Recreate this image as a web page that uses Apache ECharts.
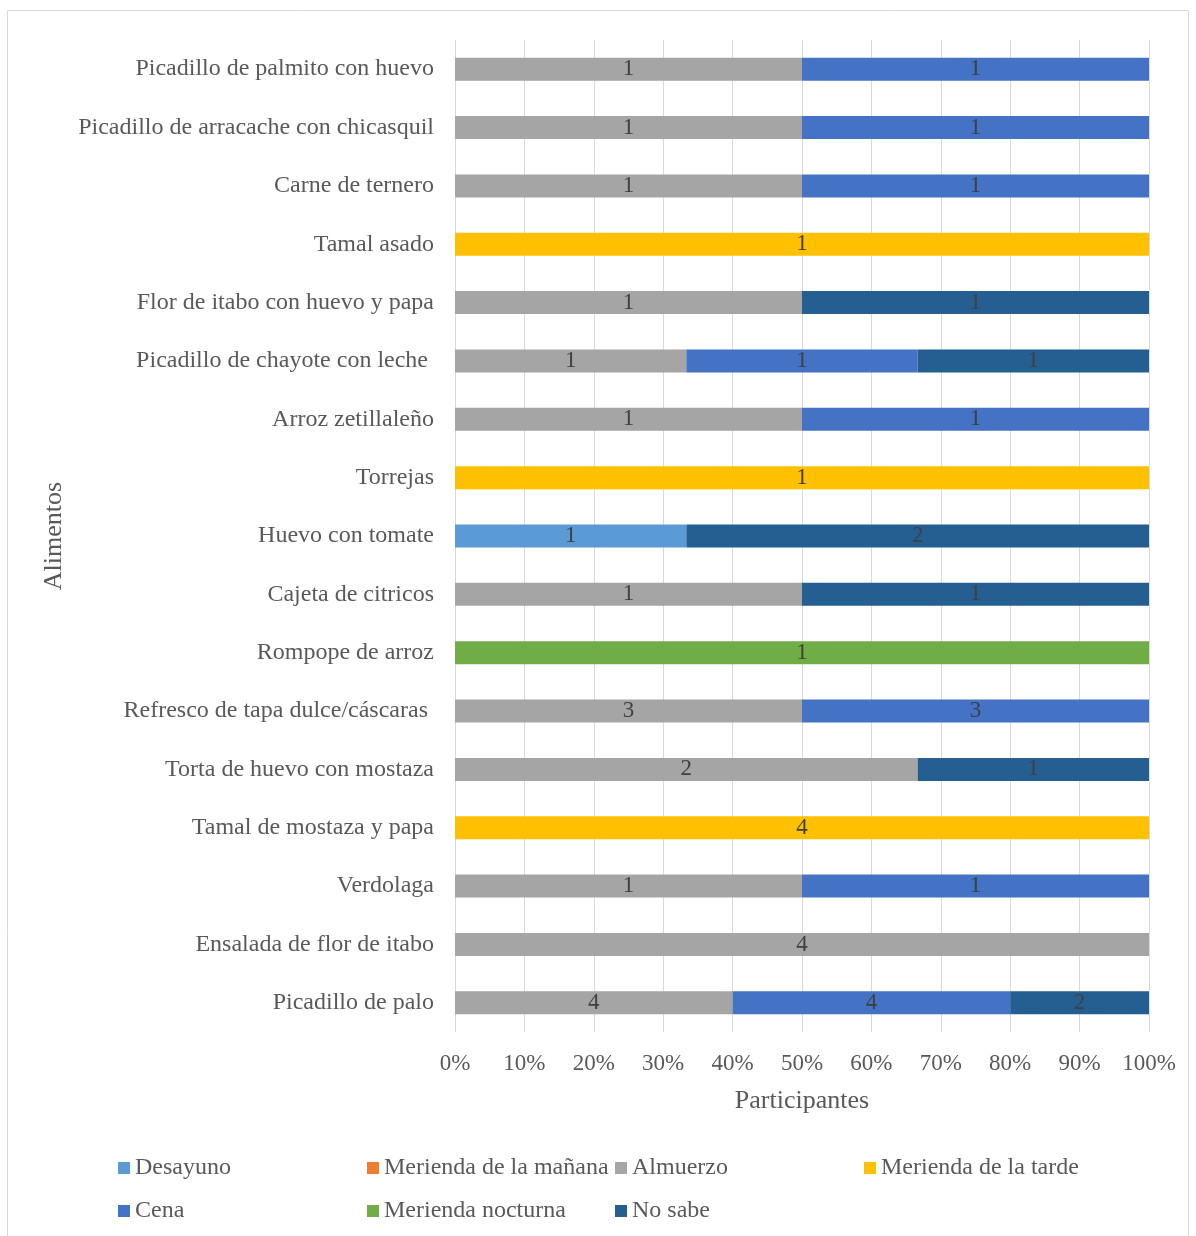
<!DOCTYPE html>
<html>
<head>
<meta charset="utf-8">
<script src="https://cdn.jsdelivr.net/npm/echarts@6/dist/echarts.min.js"></script>
<style>
  html, body { margin: 0; padding: 0; background: #ffffff; }
  #chart { width: 1196px; height: 1236px; }
</style>
</head>
<body>
<div id="chart"></div>
<script>
// Foods, listed top to bottom
const categories = [
  'Picadillo de palmito con huevo',
  'Picadillo de arracache con chicasquil',
  'Carne de ternero',
  'Tamal asado',
  'Flor de itabo con huevo y papa',
  'Picadillo de chayote con leche ',
  'Arroz zetillaleño',
  'Torrejas',
  'Huevo con tomate',
  'Cajeta de citricos',
  'Rompope de arroz',
  'Refresco de tapa dulce/cáscaras ',
  'Torta de huevo con mostaza',
  'Tamal de mostaza y papa',
  'Verdolaga',
  'Ensalada de flor de itabo',
  'Picadillo de palo'
];

// Number of participants per meal time
const desayuno        = [0, 0, 0, 0, 0, 0, 0, 0, 1, 0, 0, 0, 0, 0, 0, 0, 0];
const meriendaManana  = [0, 0, 0, 0, 0, 0, 0, 0, 0, 0, 0, 0, 0, 0, 0, 0, 0];
const almuerzo        = [1, 1, 1, 0, 1, 1, 1, 0, 0, 1, 0, 3, 2, 0, 1, 4, 4];
const meriendaTarde   = [0, 0, 0, 1, 0, 0, 0, 1, 0, 0, 0, 0, 0, 4, 0, 0, 0];
const cena            = [1, 1, 1, 0, 0, 1, 1, 0, 0, 0, 0, 3, 0, 0, 1, 0, 4];
const meriendaNocturna= [0, 0, 0, 0, 0, 0, 0, 0, 0, 0, 1, 0, 0, 0, 0, 0, 0];
const noSabe          = [0, 0, 0, 0, 1, 1, 0, 0, 2, 1, 0, 0, 1, 0, 0, 0, 2];

const seriesNames = ['Desayuno', 'Merienda de la mañana', 'Almuerzo', 'Merienda de la tarde',
                     'Cena', 'Merienda nocturna', 'No sabe'];
const seriesCounts = [desayuno, meriendaManana, almuerzo, meriendaTarde, cena, meriendaNocturna, noSabe];
const seriesColors = ['#5B9BD5', '#ED7D31', '#A5A5A5', '#FFC000', '#4472C4', '#70AD47', '#255E91'];

const tickLabels = ['0%', '10%', '20%', '30%', '40%', '50%', '60%', '70%', '80%', '90%', '100%'];

const FONT = '"Liberation Serif", "Times New Roman", serif';

// Row totals for the 100% stacking
const totals = categories.map((_, i) => seriesCounts.reduce((s, arr) => s + arr[i], 0));

const series = seriesNames.map((name, k) => ({
  name: name,
  type: 'bar',
  stack: 'total',
  barWidth: 23,
  itemStyle: { color: seriesColors[k] },
  label: {
    show: true,
    position: 'inside',
    fontFamily: FONT,
    fontSize: 23,
    color: '#404040',
    padding: [3, 0, 0, 0],
    formatter: p => (p.data.count > 0 ? String(p.data.count) : '')
  },
  data: seriesCounts[k].map((c, i) => ({ value: totals[i] ? c / totals[i] * 100 : 0, count: c }))
}));

// One legend block per entry so the entries sit on a fixed column grid
const legendCols = [118, 367, 615, 864];
const legendRows = [1156, 1199];
const legends = seriesNames.map((name, k) => ({
  data: [name],
  left: legendCols[k % 4],
  top: legendRows[Math.floor(k / 4)],
  itemWidth: 12,
  itemHeight: 12,
  icon: 'rect',
  padding: 0,
  textStyle: { fontFamily: FONT, fontSize: 24, color: '#595959', padding: 0 },
  selectedMode: false
}));

const chart = echarts.init(document.getElementById('chart'), null, { renderer: 'canvas' });
chart.setOption({
  animation: false,
  backgroundColor: '#ffffff',
  graphic: [{
    type: 'rect',
    shape: { x: 7.5, y: 10.5, width: 1181, height: 1240 },
    style: { fill: 'none', stroke: '#d9d9d9', lineWidth: 1 },
    silent: true
  }],
  legend: legends,
  grid: { left: 455, right: 47, top: 40, bottom: 204, containLabel: false },
  xAxis: {
    type: 'value',
    min: 0,
    max: 100,
    interval: 10,
    name: 'Participantes',
    nameLocation: 'middle',
    nameGap: 56,
    nameTextStyle: { fontFamily: FONT, fontSize: 26, color: '#595959' },
    axisLine: { show: false },
    axisTick: { show: false },
    splitLine: { show: true, lineStyle: { color: '#d9d9d9', width: 1 } },
    axisLabel: {
      fontFamily: FONT, fontSize: 23, color: '#595959', margin: 20,
      formatter: v => tickLabels[Math.round(v / 10)]
    }
  },
  yAxis: {
    type: 'category',
    data: categories,
    inverse: true,
    name: 'Alimentos',
    nameLocation: 'middle',
    nameGap: 384,
    nameRotate: 90,
    nameTextStyle: { fontFamily: FONT, fontSize: 26, color: '#595959' },
    axisLine: { show: false },
    axisTick: { show: false },
    axisLabel: { fontFamily: FONT, fontSize: 24, color: '#595959', margin: 21, padding: [4, 0, 0, 0] }
  },
  series: series
});
</script>
</body>
</html>
